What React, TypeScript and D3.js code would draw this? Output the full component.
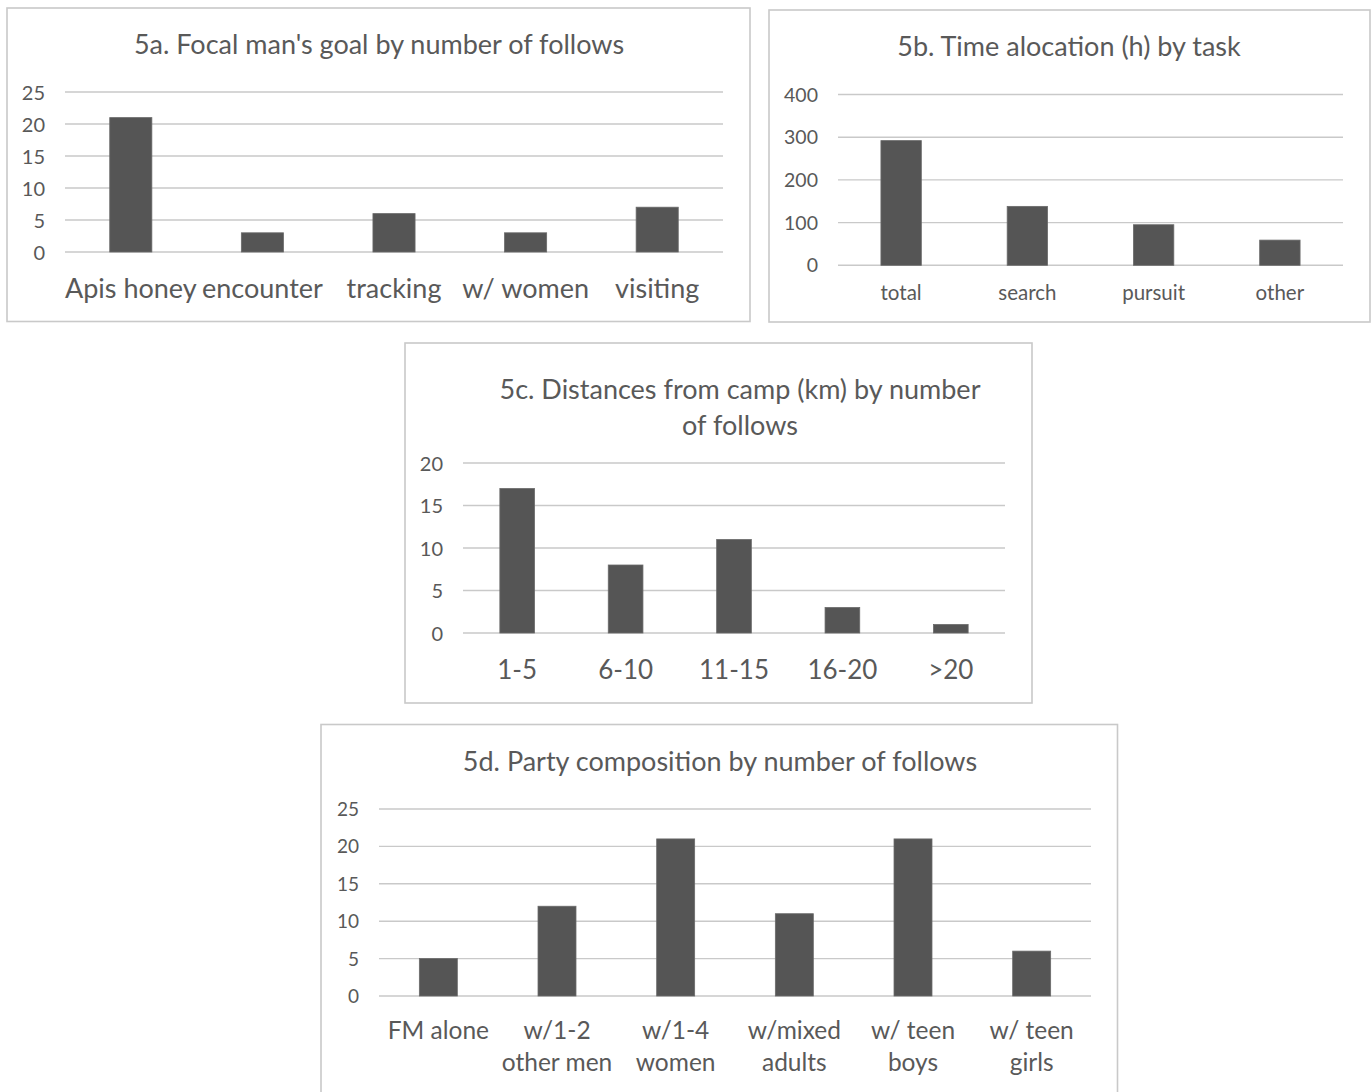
import React from "react";
import * as d3 from "d3";

// Figure 5 panels: counts of follows and hours by category
const goalCategories = ["Apis honey", "encounter", "tracking", "w/ women", "visiting"];
const goalCounts = [21, 3, 6, 3, 7];
const goalTicks = [0, 5, 10, 15, 20, 25];

const taskCategories = ["total", "search", "pursuit", "other"];
const taskHours = [292, 138, 95, 59];
const taskTicks = [0, 100, 200, 300, 400];

const distanceCategories = ["1-5", "6-10", "11-15", "16-20", ">20"];
const distanceCounts = [17, 8, 11, 3, 1];
const distanceTicks = [0, 5, 10, 15, 20];

const partyCategories = [
  ["FM alone"],
  ["w/1-2", "other men"],
  ["w/1-4", "women"],
  ["w/mixed", "adults"],
  ["w/ teen", "boys"],
  ["w/ teen", "girls"],
];
const partyCounts = [5, 12, 21, 11, 21, 6];
const partyTicks = [0, 5, 10, 15, 20, 25];

const FONT = "Lato, 'Open Sans', sans-serif";
const TEXT = "#595959";
const GRID = "#c9c9c9";
const BORDER = "#c9c9c9";
const BAR = "#555555";

type PanelProps = {
  box: [number, number, number, number]; // x0, y0, x1, y1
  titleLines: string[];
  titleY: number;
  titleLineGap?: number;
  titleX: number;
  titleSize: number;
  categories: string[][];
  values: number[];
  ticks: number[];
  plot: [number, number, number, number]; // left, top(max tick), right, bottom(zero)
  tickSize: number;
  catSize: number;
  catY: number;
  catLineGap?: number;
};

function Panel(p: PanelProps) {
  const [x0, y0, x1, y1] = p.box;
  const [pl, pt, pr, pb] = p.plot;
  const x = d3
    .scaleBand<number>()
    .domain(p.values.map((_, i) => i))
    .range([pl, pr])
    .paddingInner(0.68)
    .paddingOuter(0.34);
  const y = d3
    .scaleLinear()
    .domain([0, p.ticks[p.ticks.length - 1]])
    .range([pb, pt]);
  return (
    <g>
      <rect
        x={x0}
        y={y0}
        width={x1 - x0}
        height={y1 - y0}
        fill="#ffffff"
        stroke={BORDER}
        strokeWidth={1.6}
      />
      {p.titleLines.map((t, i) => (
        <text
          key={i}
          x={p.titleX}
          y={p.titleY + i * (p.titleLineGap || 0)}
          textAnchor="middle"
          dominantBaseline="central"
          fontFamily={FONT}
          fontSize={p.titleSize}
          fill={TEXT}
        >
          {t}
        </text>
      ))}
      {p.ticks.map((t) => (
        <g key={t}>
          <line x1={pl} x2={pr} y1={y(t)} y2={y(t)} stroke={GRID} strokeWidth={1.4} />
          <text
            x={pl - 20}
            y={y(t) - 0.5}
            textAnchor="end"
            dominantBaseline="central"
            fontFamily={FONT}
            fontSize={p.tickSize}
            fill={TEXT}
          >
            {t}
          </text>
        </g>
      ))}
      {p.values.map((v, i) => (
        <rect
          key={i}
          x={x(i)}
          y={y(v)}
          width={x.bandwidth()}
          height={y(0) - y(v)}
          fill={BAR}
          stroke="#6a6a6a"
          strokeWidth={0.8}
        />
      ))}
      {p.categories.map((lines, i) =>
        lines.map((l, j) => (
          <text
            key={i + "-" + j}
            x={(x(i) as number) + x.bandwidth() / 2}
            y={p.catY + j * (p.catLineGap || 0)}
            textAnchor="middle"
            dominantBaseline="central"
            fontFamily={FONT}
            fontSize={p.catSize}
            fill={TEXT}
          >
            {l}
          </text>
        ))
      )}
    </g>
  );
}

export default function App() {
  return (
    <svg
      width={1372}
      height={1092}
      style={{ position: "absolute", left: 0, top: 0, background: "#ffffff" }}
    >
      <rect x={0} y={0} width={1372} height={1092} fill="#ffffff" />
      <Panel
        box={[7, 8, 750, 321.5]}
        titleLines={["5a. Focal man's goal by number of follows"]}
        titleX={379}
        titleY={43.5}
        titleSize={27}
        categories={goalCategories.map((c) => [c])}
        values={goalCounts}
        ticks={goalTicks}
        plot={[65, 92, 723, 252]}
        tickSize={20}
        catSize={27}
        catY={287.5}
      />
      <Panel
        box={[769, 10, 1370, 322]}
        titleLines={["5b. Time alocation (h) by task"]}
        titleX={1069}
        titleY={45.5}
        titleSize={27}
        categories={taskCategories.map((c) => [c])}
        values={taskHours}
        ticks={taskTicks}
        plot={[838, 94.5, 1343, 265.3]}
        tickSize={19.5}
        catSize={20.5}
        catY={292}
      />
      <Panel
        box={[405, 343, 1032, 703]}
        titleLines={["5c. Distances from camp (km) by number", "of follows"]}
        titleX={740}
        titleY={388.5}
        titleLineGap={36}
        titleSize={27}
        categories={distanceCategories.map((c) => [c])}
        values={distanceCounts}
        ticks={distanceTicks}
        plot={[463, 463, 1005, 633]}
        tickSize={20}
        catSize={26}
        catY={668.5}
      />
      <Panel
        box={[321, 724.5, 1117.5, 1100]}
        titleLines={["5d. Party composition by number of follows"]}
        titleX={720}
        titleY={760.5}
        titleSize={27}
        categories={partyCategories}
        values={partyCounts}
        ticks={partyTicks}
        plot={[379, 809, 1091, 996]}
        tickSize={19}
        catSize={24.5}
        catY={1029.5}
        catLineGap={32}
      />
    </svg>
  );
}
